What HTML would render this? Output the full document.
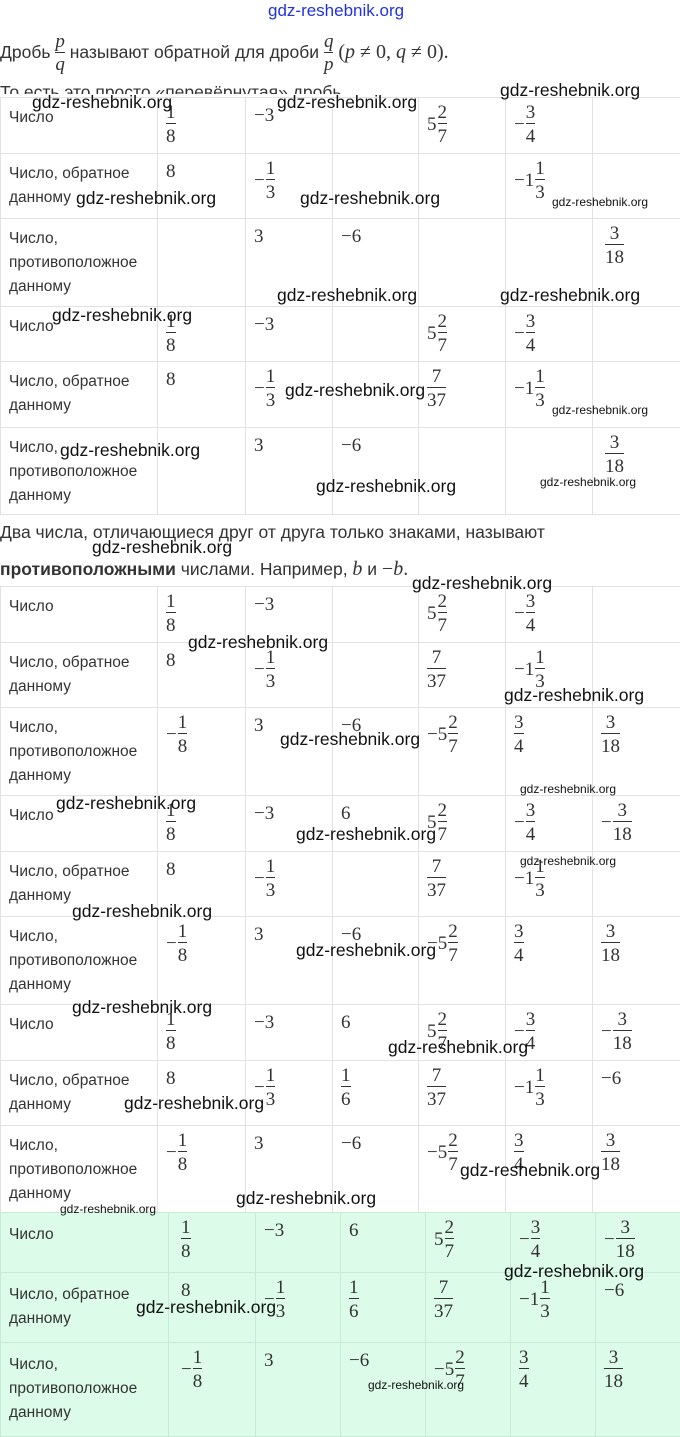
<!DOCTYPE html>
<html><head><meta charset="utf-8"><style>
body{margin:0;width:680px;height:1436px;overflow:hidden;background:#fff;position:relative;font-family:"Liberation Sans",sans-serif;color:#222}
table{position:absolute;left:0;border-collapse:collapse;table-layout:fixed;width:680px}
td{border:1px solid #e2e2e2;vertical-align:top;padding:4px 0 0 8px;font-family:"Liberation Serif",serif;font-size:19px;color:#333}
td.l{font-family:"Liberation Sans",sans-serif;font-size:15.5px;line-height:24px;padding-top:8px;color:#333}
.n{display:inline-block;margin-top:2px;line-height:24px}
.f{display:inline-flex;flex-direction:column;align-items:center;vertical-align:top;line-height:21px}
.f span+span{border-top:1px solid #333;padding-top:2px}
.m{display:inline-block;vertical-align:top;margin-top:11px;line-height:24px;margin-right:1px}
.w{position:absolute;font-family:"Liberation Sans",sans-serif;font-size:17.5px;color:#111;white-space:nowrap}
.ws{font-size:12px}
.g td{background:#dcfbe9;border-color:#c8ead6}
p{position:absolute;left:0;margin:0;font-size:17.5px;white-space:nowrap;color:#333}
</style></head><body>
<div class="w" style="left:268px;top:1px;color:#2233dd;font-size:17px">gdz-reshebnik.org</div>
<p style="top:32px">Дробь <span class="f" style="font-family:'Liberation Serif',serif;font-style:italic;font-size:19px;line-height:20px;vertical-align:middle"><span>p</span><span>q</span></span> называют обратной для дроби <span class="f" style="font-family:'Liberation Serif',serif;font-style:italic;font-size:19px;line-height:20px;vertical-align:middle"><span>q</span><span>p</span></span> <span style="font-family:'Liberation Serif',serif;font-size:20px">(<i>p</i> ≠ 0, <i>q</i> ≠ 0).</span></p>
<p style="top:82px;height:12px;overflow:hidden">То есть это просто «перевёрнутая» дробь.</p>

<table style="top:97px">
<colgroup><col style="width:157px"><col style="width:88px"><col style="width:87px"><col style="width:86px"><col style="width:87px"><col style="width:87px"><col style="width:88px"></colgroup>
<tr style="height:56px"><td class="l">Число</td><td><span class="f"><span>1</span><span>8</span></span></td><td><span class="n">−3</span></td><td></td><td><span class="m">5</span><span class="f"><span>2</span><span>7</span></span></td><td><span class="m">−</span><span class="f"><span>3</span><span>4</span></span></td><td></td></tr>
<tr style="height:65px"><td class="l">Число, обратное данному</td><td><span class="n">8</span></td><td><span class="m">−</span><span class="f"><span>1</span><span>3</span></span></td><td></td><td></td><td><span class="m">−1</span><span class="f"><span>1</span><span>3</span></span></td><td></td></tr>
<tr style="height:88px"><td class="l">Число, противоположное данному</td><td></td><td><span class="n">3</span></td><td><span class="n">−6</span></td><td></td><td></td><td style="padding-left:12px"><span class="f"><span>3</span><span>18</span></span></td></tr>
<tr style="height:55px"><td class="l">Число</td><td><span class="f"><span>1</span><span>8</span></span></td><td><span class="n">−3</span></td><td></td><td><span class="m">5</span><span class="f"><span>2</span><span>7</span></span></td><td><span class="m">−</span><span class="f"><span>3</span><span>4</span></span></td><td></td></tr>
<tr style="height:66px"><td class="l">Число, обратное данному</td><td><span class="n">8</span></td><td><span class="m">−</span><span class="f"><span>1</span><span>3</span></span></td><td></td><td><span class="f"><span>7</span><span>37</span></span></td><td><span class="m">−1</span><span class="f"><span>1</span><span>3</span></span></td><td></td></tr>
<tr style="height:87px"><td class="l">Число, противоположное данному</td><td></td><td><span class="n">3</span></td><td><span class="n">−6</span></td><td></td><td></td><td style="padding-left:12px"><span class="f"><span>3</span><span>18</span></span></td></tr>
</table>

<p style="top:522px">Два числа, отличающиеся друг от друга только знаками, называют</p>
<p style="top:558px"><b>противоположными</b> числами. Например, <i style="font-family:'Liberation Serif',serif;font-size:20px">b</i> и <span style="font-family:'Liberation Serif',serif;font-size:20px">−<i>b</i>.</span></p>

<table style="top:586px">
<colgroup><col style="width:157px"><col style="width:88px"><col style="width:87px"><col style="width:86px"><col style="width:87px"><col style="width:87px"><col style="width:88px"></colgroup>
<tr style="height:56px"><td class="l">Число</td><td><span class="f"><span>1</span><span>8</span></span></td><td><span class="n">−3</span></td><td></td><td><span class="m">5</span><span class="f"><span>2</span><span>7</span></span></td><td><span class="m">−</span><span class="f"><span>3</span><span>4</span></span></td><td></td></tr>
<tr style="height:65px"><td class="l">Число, обратное данному</td><td><span class="n">8</span></td><td><span class="m">−</span><span class="f"><span>1</span><span>3</span></span></td><td></td><td><span class="f"><span>7</span><span>37</span></span></td><td><span class="m">−1</span><span class="f"><span>1</span><span>3</span></span></td><td></td></tr>
<tr style="height:88px"><td class="l">Число, противоположное данному</td><td><span class="m">−</span><span class="f"><span>1</span><span>8</span></span></td><td><span class="n">3</span></td><td><span class="n">−6</span></td><td><span class="m">−5</span><span class="f"><span>2</span><span>7</span></span></td><td><span class="f"><span>3</span><span>4</span></span></td><td><span class="f"><span>3</span><span>18</span></span></td></tr>
<tr style="height:56px"><td class="l">Число</td><td><span class="f"><span>1</span><span>8</span></span></td><td><span class="n">−3</span></td><td><span class="n">6</span></td><td><span class="m">5</span><span class="f"><span>2</span><span>7</span></span></td><td><span class="m">−</span><span class="f"><span>3</span><span>4</span></span></td><td><span class="m">−</span><span class="f"><span>3</span><span>18</span></span></td></tr>
<tr style="height:65px"><td class="l">Число, обратное данному</td><td><span class="n">8</span></td><td><span class="m">−</span><span class="f"><span>1</span><span>3</span></span></td><td></td><td><span class="f"><span>7</span><span>37</span></span></td><td><span class="m">−1</span><span class="f"><span>1</span><span>3</span></span></td><td></td></tr>
<tr style="height:88px"><td class="l">Число, противоположное данному</td><td><span class="m">−</span><span class="f"><span>1</span><span>8</span></span></td><td><span class="n">3</span></td><td><span class="n">−6</span></td><td><span class="m">−5</span><span class="f"><span>2</span><span>7</span></span></td><td><span class="f"><span>3</span><span>4</span></span></td><td><span class="f"><span>3</span><span>18</span></span></td></tr>
<tr style="height:56px"><td class="l">Число</td><td><span class="f"><span>1</span><span>8</span></span></td><td><span class="n">−3</span></td><td><span class="n">6</span></td><td><span class="m">5</span><span class="f"><span>2</span><span>7</span></span></td><td><span class="m">−</span><span class="f"><span>3</span><span>4</span></span></td><td><span class="m">−</span><span class="f"><span>3</span><span>18</span></span></td></tr>
<tr style="height:65px"><td class="l">Число, обратное данному</td><td><span class="n">8</span></td><td><span class="m">−</span><span class="f"><span>1</span><span>3</span></span></td><td><span class="f"><span>1</span><span>6</span></span></td><td><span class="f"><span>7</span><span>37</span></span></td><td><span class="m">−1</span><span class="f"><span>1</span><span>3</span></span></td><td><span class="n">−6</span></td></tr>
<tr style="height:87px"><td class="l">Число, противоположное данному</td><td><span class="m">−</span><span class="f"><span>1</span><span>8</span></span></td><td><span class="n">3</span></td><td><span class="n">−6</span></td><td><span class="m">−5</span><span class="f"><span>2</span><span>7</span></span></td><td><span class="f"><span>3</span><span>4</span></span></td><td><span class="f"><span>3</span><span>18</span></span></td></tr>
</table>

<table class="g" style="top:1212px">
<colgroup><col style="width:168px"><col style="width:87px"><col style="width:85px"><col style="width:85px"><col style="width:85px"><col style="width:85px"><col style="width:85px"></colgroup>
<tr style="height:60px"><td class="l" style="padding-top:10px">Число</td><td style="padding-left:12px"><span class="f"><span>1</span><span>8</span></span></td><td><span class="n">−3</span></td><td><span class="n">6</span></td><td><span class="m">5</span><span class="f"><span>2</span><span>7</span></span></td><td><span class="m">−</span><span class="f"><span>3</span><span>4</span></span></td><td><span class="m">−</span><span class="f"><span>3</span><span>18</span></span></td></tr>
<tr style="height:70px"><td class="l" style="padding-top:10px">Число, обратное данному</td><td style="padding-left:12px"><span class="n">8</span></td><td><span class="m">−</span><span class="f"><span>1</span><span>3</span></span></td><td><span class="f"><span>1</span><span>6</span></span></td><td><span class="f"><span>7</span><span>37</span></span></td><td><span class="m">−1</span><span class="f"><span>1</span><span>3</span></span></td><td><span class="n">−6</span></td></tr>
<tr style="height:94px"><td class="l" style="padding-top:10px">Число, противоположное данному</td><td style="padding-left:12px"><span class="m">−</span><span class="f"><span>1</span><span>8</span></span></td><td><span class="n">3</span></td><td><span class="n">−6</span></td><td><span class="m">−5</span><span class="f"><span>2</span><span>7</span></span></td><td><span class="f"><span>3</span><span>4</span></span></td><td><span class="f"><span>3</span><span>18</span></span></td></tr>
</table>

<div class="w" style="left:32px;top:92px">gdz-reshebnik.org</div>
<div class="w" style="left:277px;top:92px">gdz-reshebnik.org</div>
<div class="w" style="left:500px;top:80px">gdz-reshebnik.org</div>
<div class="w" style="left:76px;top:188px">gdz-reshebnik.org</div>
<div class="w" style="left:300px;top:188px">gdz-reshebnik.org</div>
<div class="w ws" style="left:552px;top:195px">gdz-reshebnik.org</div>
<div class="w" style="left:277px;top:285px">gdz-reshebnik.org</div>
<div class="w" style="left:500px;top:285px">gdz-reshebnik.org</div>
<div class="w" style="left:52px;top:305px">gdz-reshebnik.org</div>
<div class="w" style="left:285px;top:380px">gdz-reshebnik.org</div>
<div class="w ws" style="left:552px;top:403px">gdz-reshebnik.org</div>
<div class="w" style="left:60px;top:440px">gdz-reshebnik.org</div>
<div class="w ws" style="left:540px;top:475px">gdz-reshebnik.org</div>
<div class="w" style="left:316px;top:476px">gdz-reshebnik.org</div>
<div class="w" style="left:92px;top:537px">gdz-reshebnik.org</div>
<div class="w" style="left:412px;top:573px">gdz-reshebnik.org</div>
<div class="w" style="left:188px;top:632px">gdz-reshebnik.org</div>
<div class="w" style="left:504px;top:685px">gdz-reshebnik.org</div>
<div class="w" style="left:280px;top:729px">gdz-reshebnik.org</div>
<div class="w ws" style="left:520px;top:782px">gdz-reshebnik.org</div>
<div class="w" style="left:56px;top:793px">gdz-reshebnik.org</div>
<div class="w" style="left:296px;top:824px">gdz-reshebnik.org</div>
<div class="w ws" style="left:520px;top:854px">gdz-reshebnik.org</div>
<div class="w" style="left:72px;top:901px">gdz-reshebnik.org</div>
<div class="w" style="left:296px;top:940px">gdz-reshebnik.org</div>
<div class="w" style="left:72px;top:997px">gdz-reshebnik.org</div>
<div class="w" style="left:388px;top:1037px">gdz-reshebnik.org</div>
<div class="w" style="left:124px;top:1093px">gdz-reshebnik.org</div>
<div class="w" style="left:460px;top:1160px">gdz-reshebnik.org</div>
<div class="w" style="left:236px;top:1188px">gdz-reshebnik.org</div>
<div class="w ws" style="left:60px;top:1202px">gdz-reshebnik.org</div>
<div class="w" style="left:504px;top:1261px">gdz-reshebnik.org</div>
<div class="w" style="left:136px;top:1297px">gdz-reshebnik.org</div>
<div class="w ws" style="left:368px;top:1378px">gdz-reshebnik.org</div>
</body></html>
